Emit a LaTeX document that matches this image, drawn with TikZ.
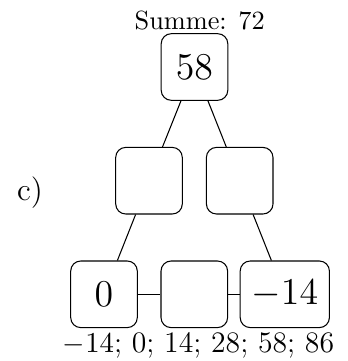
\documentclass[tikz,border=0pt]{standalone}
\begin{document}
\begin{tikzpicture}[x=0.38pt,y=-0.38pt,
  box/.style={draw,rounded corners=3.8pt,minimum width=25.3pt,minimum height=25.3pt,inner xsep=4.3pt,font=\fontsize{14}{17}\selectfont},
  lbl/.style={anchor=base,inner sep=0pt}]
\useasboundingbox (0,0) rectangle (347,361);
\node[lbl,font=\fontsize{10}{12}\selectfont] (sum) at (199.7,29.5) {Summe: 72};
\node[box] (top) at (194.5,67) {$58$};
\node[box] (ml) at (149,180.7) {};
\node[box] (mr) at (239.7,180.7) {};
\node[box] (bl) at (104,294.3) {$0$};
\node[box] (bm) at (194.3,294.3) {};
\node[box] (br) at (284.8,294.3) {$-14$};
\node[lbl,font=\fontsize{12}{14}\selectfont] (lab) at (30,200) {c)};
\node[lbl,font=\fontsize{11.3}{13}\selectfont] (opts) at (198.5,352.3) {$-14$; 0; 14; 28; 58; 86};
\draw (top) -- (ml);
\draw (top) -- (mr);
\draw (ml) -- (bl);
\draw (mr) -- (br);
\draw (bl) -- (bm);
\draw (bm) -- (br);
\end{tikzpicture}
\end{document}
